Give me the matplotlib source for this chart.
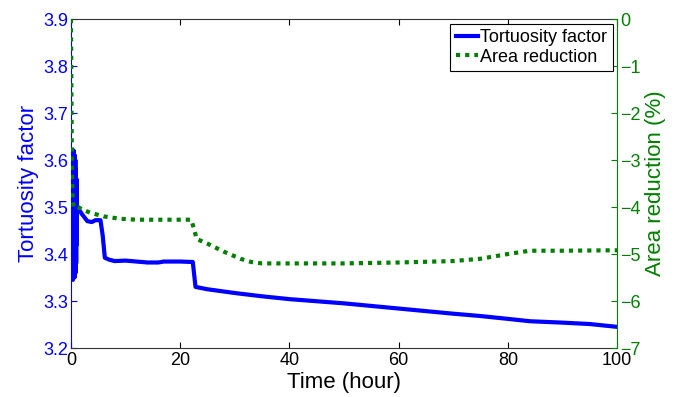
import numpy as np
import matplotlib.pyplot as plt

plt.rcParams['font.family'] = ['Liberation Sans', 'DejaVu Sans']

# tortuosity factor vs time (hour)
t_tort = [0.2, 0.25, 0.3, 0.35, 0.4, 0.45, 0.5, 0.55, 0.6, 0.65, 0.7, 0.75, 0.8, 0.85,
          0.9, 0.95, 1.0, 1.05, 1.1,
          1.2, 2.0, 3.0, 3.8, 4.5, 5.4, 5.8, 6.2, 7.0, 8.0, 10.0, 12.0, 14.0, 16.0,
          17.0, 20.0, 22.3, 22.8, 25.0, 30.0, 35.0, 40.0, 50.0, 60.0, 70.0, 75.0,
          80.0, 84.0, 90.0, 95.0, 100.0]
tort = [3.62, 3.35, 3.62, 3.345, 3.62, 3.35, 3.62, 3.35, 3.61, 3.35, 3.61, 3.36, 3.6, 3.36,
        3.58, 3.38, 3.56, 3.42, 3.5,
        3.50, 3.485, 3.47, 3.468, 3.472, 3.472, 3.44, 3.392, 3.388, 3.385, 3.386, 3.384, 3.382, 3.382,
        3.384, 3.384, 3.383, 3.33, 3.325, 3.317, 3.31, 3.304, 3.295, 3.284, 3.273, 3.268,
        3.262, 3.257, 3.254, 3.251, 3.245]

# area reduction (%) vs time (hour)
t_area = [0.0, 0.05, 0.1, 0.15, 0.2, 0.3, 0.5, 1.0, 2.0, 3.5, 6.0, 9.0, 12.0, 15.0, 18.0,
          22.0, 22.5, 23.0, 25.0, 28.0, 31.0, 33.0, 35.0, 40.0, 50.0, 60.0, 70.0, 75.0,
          80.0, 84.0, 90.0, 100.0]
area = [0.0, -1.0, -2.0, -2.8, -3.4, -3.8, -4.0, -3.98, -4.05, -4.12, -4.2, -4.25, -4.27, -4.27, -4.27,
        -4.27, -4.45, -4.68, -4.78, -4.95, -5.1, -5.17, -5.2, -5.2, -5.2, -5.18, -5.15, -5.1,
        -5.0, -4.93, -4.93, -4.92]

blue = (0, 0, 1)
green = (0, 0.5, 0)

fig = plt.figure(figsize=(6.76, 3.97), dpi=100)
ax = fig.add_axes([0.105, 0.1234, 0.808, 0.8286])
ax2 = ax.twinx()

l1, = ax.plot(t_tort, tort, color=blue, lw=3, label='Tortuosity factor')
l2, = ax2.plot(t_area, area, color=green, lw=3, ls=(0, (1, 1.2)),
               dash_capstyle='butt', label='Area reduction')

ax.set_xlim(0, 100)
ax.set_ylim(3.2, 3.9)
ax2.set_ylim(-7, 0)
ax.set_xticks([0, 20, 40, 60, 80, 100])
ax.set_yticks(np.arange(3.2, 3.91, 0.1))
ax2.set_yticks(range(-7, 1))

ax.tick_params(axis='x', direction='in', top=True, labelsize=13, length=4, colors='black', pad=3)
ax.tick_params(axis='y', direction='in', labelsize=13, length=4, colors=blue, pad=2)
ax2.tick_params(axis='y', direction='in', labelsize=13, length=4, colors=green, pad=2)

ax.spines['left'].set_color(blue)
ax.spines['right'].set_visible(False)
ax2.spines['left'].set_visible(False)
ax2.spines['right'].set_color(green)
for s in ['top', 'bottom']:
    ax.spines[s].set_color('#333333')
    ax2.spines[s].set_visible(False)

ax.set_xlabel('Time (hour)', fontsize=16, labelpad=2)
ax.set_ylabel('Tortuosity factor', fontsize=16, color=blue, labelpad=3)
ax2.set_ylabel('Area reduction (%)', fontsize=16, color=green, labelpad=3)

leg = ax2.legend([l1, l2], ['Tortuosity factor', 'Area reduction'], loc='upper right',
                 fontsize=13, frameon=True, fancybox=False, framealpha=1,
                 edgecolor='black', borderpad=0.3, labelspacing=0.15,
                 handlelength=1.2, handletextpad=0.15, borderaxespad=0.25)
leg.get_frame().set_linewidth(0.8)

plt.savefig('out.png', dpi=100)
